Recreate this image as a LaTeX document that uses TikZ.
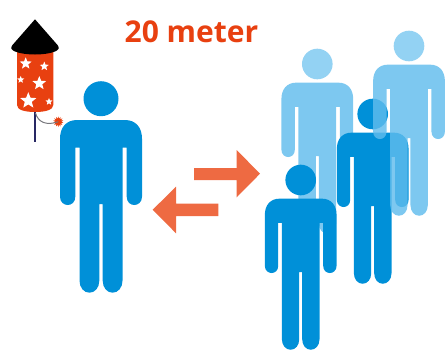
\documentclass[tikz,border=0pt]{standalone}
\usepackage{fontspec}
\setmainfont{Open Sans}
\usetikzlibrary{shapes.geometric}
\definecolor{pplblue}{RGB}{0,144,216}
\definecolor{pplfade}{RGB}{96,188,237}
\definecolor{arrorange}{RGB}{238,106,66}
\definecolor{txtorange}{RGB}{232,64,16}
\definecolor{fusegray}{RGB}{120,120,125}
\definecolor{sticknavy}{RGB}{40,40,100}
\newcommand{\personfig}[6]{%
  \begin{scope}[shift={(#1,#2)},scale=#3]
    \fill[#4,fill opacity=#5] (0,0) circle[radius=17.5pt];
    \fill[#4,fill opacity=#6]
      (0,21.3) -- (24,21.3) .. controls (35,21.3) and (41,29) .. (41,40)
      -- (41,98) .. controls (41,103.5) and (37,106.3) .. (33.3,106.3)
      .. controls (29.5,106.3) and (25.7,103.5) .. (25.7,98)
      -- (25.7,49) -- (21.5,49) -- (21.5,182) .. controls (21.5,189) and (17,194) .. (11.6,194)
      .. controls (6,194) and (1.7,189) .. (1.7,182)
      -- (1.7,105.3) -- (-1.7,105.3) -- (-1.7,182)
      .. controls (-1.7,189) and (-6,194) .. (-11.6,194)
      .. controls (-17,194) and (-21.5,189) .. (-21.5,182)
      -- (-21.5,49) -- (-25.7,49) -- (-25.7,98)
      .. controls (-25.7,103.5) and (-29.5,106.3) .. (-33.3,106.3)
      .. controls (-37,106.3) and (-41,103.5) .. (-41,98)
      -- (-41,40) .. controls (-41,29) and (-35,21.3) .. (-24,21.3) -- cycle;
  \end{scope}}
\begin{document}
\begin{tikzpicture}[
  x=1pt,y=-1pt,
  bigarrow/.style={fill=arrorange},
  rocketstar/.style={star,star points=5,star point ratio=2.3,fill=white,inner sep=0pt},
]
  \useasboundingbox (0,0) rectangle (447,349);

  % heading
  \node[font=\bfseries\fontsize{30}{34}\selectfont,text=txtorange] (dist) at (191.5,32) {20 meter};

  % rocket
  \draw[sticknavy,line width=1.3pt] (35,110) -- (35,142.3);
  \fill[txtorange] (17,50) -- (53.3,50) -- (53.3,105)
    .. controls (53.3,110) and (45,112) .. (35,112)
    .. controls (25,112) and (17,110) .. (17,105) -- cycle;
  \fill[black] (35,19.3) -- (57.5,45) .. controls (60,48) and (58.5,50) .. (55,51.5)
    .. controls (45,55.5) and (25,55.5) .. (15,51.5)
    .. controls (11.5,50) and (10,48) .. (12.5,45) -- cycle;
  \foreach \sx/\sy/\sr in {25.7/63.5/12.5, 44.3/66.3/9.5, 20.7/79.7/7.5, 39.3/83.3/14.5, 28.3/100.7/17, 49/101.7/7.5}
    \node[rocketstar,minimum size=\sr pt] at (\sx,\sy) {};

  % fuse and spark
  \node[star,star points=14,star point ratio=1.7,fill=txtorange,minimum size=10.5pt,inner sep=0pt] (spark) at (58.3,121.7) {};
  \coordinate (fusestart) at (35.5,113);
  \draw[fusegray,line width=1pt] (fusestart) .. controls (38,122) and (46,126) .. (spark.center);

  % left person
  \personfig{101}{98.7}{1}{pplblue}{1}{1}

  % arrows
  \fill[bigarrow] (194,168) -- (236.7,168) -- (236.7,150) -- (260,173.7) -- (236.7,197.3) -- (236.7,180) -- (194,180) -- cycle;
  \fill[bigarrow] (218.3,203.7) -- (176,203.7) -- (176,186.7) -- (152.7,209.7) -- (176,233.3) -- (176,216) -- (218.3,216) -- cycle;

  % group on the right
  \personfig{317.3}{64}{0.875}{pplfade}{0.68}{0.82}
  \personfig{372.7}{114}{0.875}{pplblue}{1}{1}
  \personfig{409}{46}{0.875}{pplfade}{0.68}{0.82}
  \personfig{300.7}{180}{0.875}{pplblue}{1}{1}
\end{tikzpicture}
\end{document}
